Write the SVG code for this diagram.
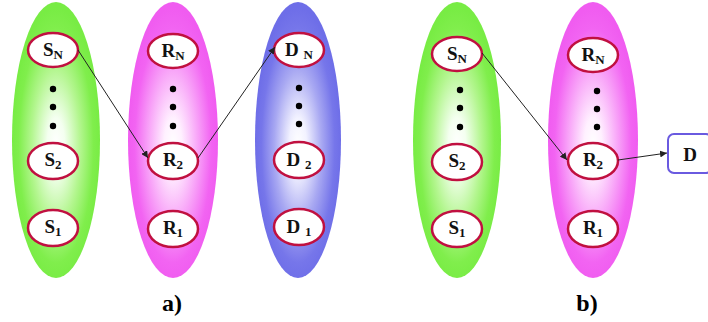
<svg xmlns="http://www.w3.org/2000/svg" width="708" height="322" viewBox="0 0 708 322">
<defs>
<radialGradient id="gG" cx="0.5" cy="0.52" r="0.5"><stop offset="0" stop-color="#ffffff"/><stop offset="0.2" stop-color="#f4fff0"/><stop offset="0.55" stop-color="#b4f690"/><stop offset="0.85" stop-color="#80ee4c"/><stop offset="1" stop-color="#78ec44"/></radialGradient>
<radialGradient id="gP" cx="0.5" cy="0.52" r="0.5"><stop offset="0" stop-color="#ffffff"/><stop offset="0.2" stop-color="#fff0ff"/><stop offset="0.55" stop-color="#f8a4f8"/><stop offset="0.85" stop-color="#f264f2"/><stop offset="1" stop-color="#f05cf0"/></radialGradient>
<radialGradient id="gB" cx="0.5" cy="0.52" r="0.5"><stop offset="0" stop-color="#ffffff"/><stop offset="0.2" stop-color="#f2f2ff"/><stop offset="0.55" stop-color="#a8a8f2"/><stop offset="0.85" stop-color="#7676ea"/><stop offset="1" stop-color="#6e6ee8"/></radialGradient>
<marker id="ah" viewBox="0 0 10 10" refX="10" refY="5" markerWidth="7" markerHeight="7" orient="auto" markerUnits="userSpaceOnUse"><path d="M0,0 L10,5 L0,10 z" fill="#222"/></marker>
</defs>
<style>
.n{fill:#fff;stroke:#c01040;stroke-width:2.5}
.t{font-family:"Liberation Serif",serif;font-weight:bold;font-size:19px;fill:#111;text-anchor:middle}
.s{font-size:13px}
.d{fill:#000}
.c{stroke:#222;stroke-width:1;fill:none;marker-end:url(#ah)}
.lbl{font-family:"Liberation Serif",serif;font-weight:bold;font-size:24px;fill:#000;text-anchor:middle}
</style>
<g id="groups">
<ellipse cx="56" cy="140" rx="44" ry="138" fill="url(#gG)"/>
<ellipse cx="173" cy="140" rx="45" ry="138" fill="url(#gP)"/>
<ellipse cx="298" cy="140" rx="43" ry="138" fill="url(#gB)"/>
<ellipse cx="457" cy="140" rx="44" ry="138" fill="url(#gG)"/>
<ellipse cx="593" cy="140" rx="45" ry="138" fill="url(#gP)"/>
</g>
<g id="dots">
<circle class="d" cx="53" cy="89" r="3.2"/><circle class="d" cx="53" cy="107" r="3.2"/><circle class="d" cx="53" cy="126" r="3.2"/>
<circle class="d" cx="173" cy="89" r="3.2"/><circle class="d" cx="173" cy="107" r="3.2"/><circle class="d" cx="173" cy="126" r="3.2"/>
<circle class="d" cx="299" cy="88" r="3.2"/><circle class="d" cx="299" cy="106" r="3.2"/><circle class="d" cx="299" cy="124" r="3.2"/>
<circle class="d" cx="460" cy="90" r="3.2"/><circle class="d" cx="460" cy="108" r="3.2"/><circle class="d" cx="460" cy="127" r="3.2"/>
<circle class="d" cx="597" cy="91" r="3.2"/><circle class="d" cx="597" cy="109" r="3.2"/><circle class="d" cx="597" cy="127" r="3.2"/>
</g>
<g id="a-SN"><ellipse class="n" cx="53" cy="50" rx="25" ry="17"/><text class="t" x="53" y="56">S<tspan class="s" dy="3">N</tspan></text></g>
<g id="a-S2"><ellipse class="n" cx="53" cy="161" rx="25" ry="18"/><text class="t" x="53" y="166">S<tspan class="s" dy="3">2</tspan></text></g>
<g id="a-S1"><ellipse class="n" cx="53" cy="228" rx="25" ry="18"/><text class="t" x="53" y="233">S<tspan class="s" dy="3">1</tspan></text></g>
<g id="a-RN"><ellipse class="n" cx="173" cy="51" rx="25" ry="17"/><text class="t" x="173" y="57">R<tspan class="s" dy="3">N</tspan></text></g>
<g id="a-R2"><ellipse class="n" cx="173" cy="161" rx="25" ry="18"/><text class="t" x="173" y="166">R<tspan class="s" dy="3">2</tspan></text></g>
<g id="a-R1"><ellipse class="n" cx="173" cy="229" rx="25" ry="18"/><text class="t" x="173" y="234">R<tspan class="s" dy="3">1</tspan></text></g>
<g id="a-DN"><ellipse class="n" cx="299" cy="50" rx="25" ry="17"/><text class="t" x="299" y="56">D <tspan class="s" dy="3">N</tspan></text></g>
<g id="a-D2"><ellipse class="n" cx="299" cy="160" rx="25" ry="18"/><text class="t" x="299" y="166">D <tspan class="s" dy="3">2</tspan></text></g>
<g id="a-D1"><ellipse class="n" cx="299" cy="227" rx="25" ry="18"/><text class="t" x="299" y="233">D <tspan class="s" dy="3">1</tspan></text></g>
<g id="b-SN"><ellipse class="n" cx="457" cy="54" rx="25" ry="17"/><text class="t" x="457" y="60">S<tspan class="s" dy="3">N</tspan></text></g>
<g id="b-S2"><ellipse class="n" cx="457" cy="162" rx="25" ry="18"/><text class="t" x="457" y="167">S<tspan class="s" dy="3">2</tspan></text></g>
<g id="b-S1"><ellipse class="n" cx="457" cy="229" rx="25" ry="18"/><text class="t" x="457" y="234">S<tspan class="s" dy="3">1</tspan></text></g>
<g id="b-RN"><ellipse class="n" cx="593" cy="55" rx="25" ry="17"/><text class="t" x="593" y="61">R<tspan class="s" dy="3">N</tspan></text></g>
<g id="b-R2"><ellipse class="n" cx="593" cy="161" rx="25" ry="18"/><text class="t" x="593" y="166">R<tspan class="s" dy="3">2</tspan></text></g>
<g id="b-R1"><ellipse class="n" cx="593" cy="229" rx="25" ry="18"/><text class="t" x="593" y="234">R<tspan class="s" dy="3">1</tspan></text></g>
<g id="b-D"><rect x="668" y="134" width="44" height="39" rx="6" fill="#fff" stroke="#6a5ae0" stroke-width="2"/><text class="t" x="690" y="161">D</text></g>
<g id="connectors">
<line class="c" x1="78" y1="50" x2="148" y2="158"/>
<line class="c" x1="198" y1="158" x2="275" y2="47"/>
<line class="c" x1="482" y1="53" x2="567" y2="160"/>
<line class="c" x1="618" y1="160" x2="667" y2="153"/>
</g>
<text class="lbl" x="172" y="311">a)</text>
<text class="lbl" x="587" y="311">b)</text>
</svg>
